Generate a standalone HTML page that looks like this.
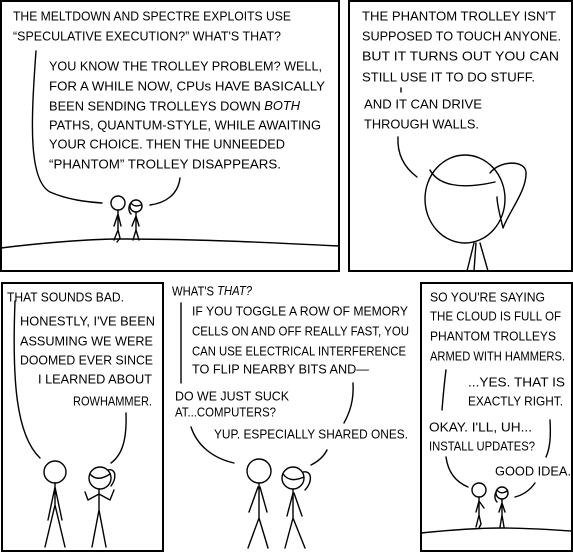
<!DOCTYPE html>
<html><head><meta charset="utf-8"><style>
html,body{margin:0;padding:0;background:#fff;}
svg{display:block}
text{font-family:"Liberation Sans",sans-serif;font-size:13px;fill:#000;dominant-baseline:middle;}
.l{fill:none;stroke:#000;stroke-width:1.4;stroke-linecap:round;stroke-linejoin:round}
.b{fill:none;stroke:#000;stroke-width:2}
</style></head><body>
<svg width="573" height="553" viewBox="0 0 573 553" xmlns="http://www.w3.org/2000/svg">
<!-- frames -->
<rect class="b" x="1" y="1" width="338" height="270"/>
<rect class="b" x="349" y="1" width="223" height="270"/>
<rect class="b" x="2" y="283" width="161" height="268"/>
<rect class="b" x="421" y="283" width="151" height="268"/>

<!-- Panel 1 -->
<text x="13" y="17" textLength="278" lengthAdjust="spacingAndGlyphs">THE MELTDOWN AND SPECTRE EXPLOITS USE</text>
<text x="13" y="37" textLength="268" lengthAdjust="spacingAndGlyphs">“SPECULATIVE EXECUTION?” WHAT'S THAT?</text>
<text x="49" y="67" textLength="273" lengthAdjust="spacingAndGlyphs">YOU KNOW THE TROLLEY PROBLEM? WELL,</text>
<text x="49" y="87" textLength="276" lengthAdjust="spacingAndGlyphs">FOR A WHILE NOW, CPUs HAVE BASICALLY</text>
<text x="49" y="107" textLength="251" lengthAdjust="spacingAndGlyphs">BEEN SENDING TROLLEYS DOWN <tspan font-style="italic">BOTH</tspan></text>
<text x="49" y="126" textLength="272" lengthAdjust="spacingAndGlyphs">PATHS, QUANTUM-STYLE, WHILE AWAITING</text>
<text x="49" y="145" textLength="236" lengthAdjust="spacingAndGlyphs">YOUR CHOICE. THEN THE UNNEEDED</text>
<text x="49" y="165" textLength="232" lengthAdjust="spacingAndGlyphs">“PHANTOM” TROLLEY DISAPPEARS.</text>
<path class="l" d="M36,51 C31,120 28,180 50,192 C68,200 88,202 102,203"/>
<path class="l" d="M180,178 C178,195 165,203 150,205"/>
<circle class="l" cx="118" cy="203" r="7"/>
<path class="l" d="M118,210 L118,230 M118,230 L114,240 M118,230 L120,238 L117,242 M118,214 L114,226 M118,214 L121,226"/>
<circle class="l" cx="136" cy="206" r="6"/>
<path class="l" d="M131,203 C134,207 138,206 141,205 M130,204 C128,208 129,212 131,214"/>
<path class="l" d="M136,212 L136,230 L133,240 M136,230 L139,240 M136,216 L132,226 M136,216 L139,226"/>
<path class="l" d="M1,248 C40,243 90,239 121,239 C200,239 280,243 339,246"/>

<!-- Panel 2 -->
<text x="362" y="17" textLength="194" lengthAdjust="spacingAndGlyphs">THE PHANTOM TROLLEY ISN'T</text>
<text x="362" y="37" textLength="199" lengthAdjust="spacingAndGlyphs">SUPPOSED TO TOUCH ANYONE.</text>
<text x="362" y="57" textLength="197" lengthAdjust="spacingAndGlyphs">BUT IT TURNS OUT YOU CAN</text>
<text x="362" y="78" textLength="173" lengthAdjust="spacingAndGlyphs">STILL USE IT TO DO STUFF.</text>
<path class="l" d="M401,88 L401,92"/>
<text x="364" y="105" textLength="118" lengthAdjust="spacingAndGlyphs">AND IT CAN DRIVE</text>
<text x="364" y="125" textLength="115" lengthAdjust="spacingAndGlyphs">THROUGH WALLS.</text>
<path class="l" d="M398,137 C397,155 405,168 417,177"/>
<ellipse class="l" cx="465" cy="199" rx="40" ry="44"/>
<path class="l" d="M430,170 C438,185 460,190 495,182"/>
<path class="l" d="M490,173 C500,160 525,160 526,172 C527,190 510,210 503,228 C500,215 497,205 497,197"/>
<path class="l" d="M474,243 L467,271 M476,243 L474,271 M480,243 L488,271"/>

<!-- Panel 3 -->
<text x="7" y="298" textLength="117" lengthAdjust="spacingAndGlyphs">THAT SOUNDS BAD.</text>
<text x="20" y="322" textLength="135" lengthAdjust="spacingAndGlyphs">HONESTLY, I'VE BEEN</text>
<text x="20" y="342" textLength="133" lengthAdjust="spacingAndGlyphs">ASSUMING WE WERE</text>
<text x="20" y="361" textLength="133" lengthAdjust="spacingAndGlyphs">DOOMED EVER SINCE</text>
<text x="38" y="380" textLength="114" lengthAdjust="spacingAndGlyphs">I LEARNED ABOUT</text>
<text x="73" y="402" textLength="79" lengthAdjust="spacingAndGlyphs">ROWHAMMER.</text>
<path class="l" d="M15,301 C12,380 16,435 40,458"/>
<path class="l" d="M126,413 C127,440 122,455 111,463"/>
<circle class="l" cx="55" cy="472" r="11"/>
<path class="l" d="M55,483 L55,505 L45,547 M55,505 L65,547 M55,487 L48,520 M55,487 L62,520"/>
<circle class="l" cx="100" cy="478" r="11"/>
<path class="l" d="M90,474 C96,481 104,478 110,474 M108,470 C116,468 117,478 111,486"/>
<path class="l" d="M99,489 L99,510 L92,547 M99,510 L106,547 M99,494 L88,500 L85,492 M99,494 L110,500 L114,490"/>

<!-- Panel 4 -->
<text x="172" y="292" textLength="80" lengthAdjust="spacingAndGlyphs">WHAT'S <tspan font-style="italic">THAT?</tspan></text>
<path class="l" d="M181,303 L181,383"/>
<text x="192" y="312" textLength="216" lengthAdjust="spacingAndGlyphs">IF YOU TOGGLE A ROW OF MEMORY</text>
<text x="192" y="332" textLength="217" lengthAdjust="spacingAndGlyphs">CELLS ON AND OFF REALLY FAST, YOU</text>
<text x="192" y="352" textLength="214" lengthAdjust="spacingAndGlyphs">CAN USE ELECTRICAL INTERFERENCE</text>
<text x="192" y="370" textLength="177" lengthAdjust="spacingAndGlyphs">TO FLIP NEARBY BITS AND—</text>
<text x="175" y="397" textLength="114" lengthAdjust="spacingAndGlyphs">DO WE JUST SUCK</text>
<text x="175" y="413" textLength="101" lengthAdjust="spacingAndGlyphs">AT...COMPUTERS?</text>
<path class="l" d="M353,383 C354,400 350,412 344,423"/>
<text x="214" y="435" textLength="194" lengthAdjust="spacingAndGlyphs">YUP. ESPECIALLY SHARED ONES.</text>
<path class="l" d="M191,427 C197,445 212,458 234,463"/>
<path class="l" d="M327,450 C323,458 317,462 311,465"/>
<circle class="l" cx="259" cy="471" r="12"/>
<path class="l" d="M259,483 L259,518 L248,548 M259,518 L268,548 M258,487 L249,512 M260,487 L267,512"/>
<circle class="l" cx="293" cy="478" r="11"/>
<path class="l" d="M283,474 C289,482 297,480 304,477 M303,472 C312,470 313,482 305,490"/>
<path class="l" d="M293,489 L293,518 L285,548 M293,518 L305,548 M293,493 L287,516 M294,493 L302,516"/>

<!-- Panel 5 -->
<text x="430" y="298" textLength="115" lengthAdjust="spacingAndGlyphs">SO YOU'RE SAYING</text>
<text x="430" y="317" textLength="131" lengthAdjust="spacingAndGlyphs">THE CLOUD IS FULL OF</text>
<text x="430" y="337" textLength="126" lengthAdjust="spacingAndGlyphs">PHANTOM TROLLEYS</text>
<text x="430" y="357" textLength="135" lengthAdjust="spacingAndGlyphs">ARMED WITH HAMMERS.</text>
<path class="l" d="M446,370 C444,385 443,398 442,410"/>
<text x="468" y="383" textLength="97" lengthAdjust="spacingAndGlyphs">...YES. THAT IS</text>
<text x="468" y="402" textLength="95" lengthAdjust="spacingAndGlyphs">EXACTLY RIGHT.</text>
<text x="429" y="428" textLength="103" lengthAdjust="spacingAndGlyphs">OKAY. I'LL, UH...</text>
<text x="429" y="447" textLength="106" lengthAdjust="spacingAndGlyphs">INSTALL UPDATES?</text>
<path class="l" d="M550,420 C551,437 550,448 546,457"/>
<text x="495" y="472" textLength="76" lengthAdjust="spacingAndGlyphs">GOOD IDEA.</text>
<path class="l" d="M446,457 C448,472 456,482 468,487"/>
<path class="l" d="M535,483 C530,490 523,495 515,497"/>
<circle class="l" cx="479" cy="490" r="7"/>
<path class="l" d="M479,497 L479,515 L476,527 M479,515 L481,524 L479,528 M479,501 L476,512 M479,501 L484,508"/>
<circle class="l" cx="502" cy="493" r="6"/>
<path class="l" d="M497,490 C500,494 504,493 507,491 M496,492 C494,496 495,500 497,502"/>
<path class="l" d="M502,499 L502,515 L500,527 M502,515 L504,527 M502,503 L499,512 M502,503 L505,512"/>
<path class="l" d="M421,533 C450,530 480,528 501,528 C530,528 555,530 572,531"/>
</svg>
</body></html>
